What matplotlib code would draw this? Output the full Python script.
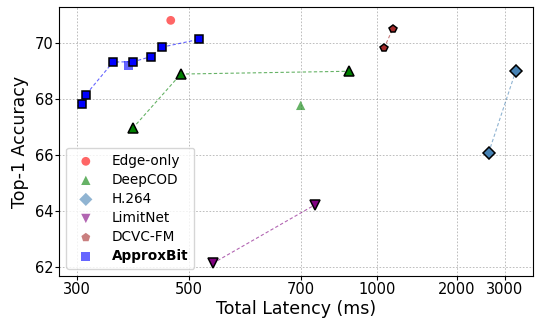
import numpy as np
import matplotlib
matplotlib.use("Agg")
import matplotlib.pyplot as plt
from matplotlib.scale import FuncScale

# ---- data ----
edge_lat = [467]
edge_acc = [70.82]

deepcod_lat = [399, 485, 888]
deepcod_acc = [66.96, 68.90, 69.00]
deepcod_ref_lat = [700]
deepcod_ref_acc = [67.78]

h264_lat = [2662, 3221]
h264_acc = [66.09, 69.00]

limitnet_lat = [542, 755]
limitnet_acc = [62.13, 64.22]

dcvc_lat = [1084, 1194]
dcvc_acc = [69.82, 70.51]

approx_lat = [308, 315, 364, 400, 431, 451, 517]
approx_acc = [67.83, 68.15, 69.33, 69.34, 69.52, 69.86, 70.14]
approx_ref_lat = [392]
approx_ref_acc = [69.20]

xticks = [300, 500, 700, 1000, 2000, 3000]
yticks = [62, 64, 66, 68, 70]

# piecewise-linear axis positions of the tick values
_bx = np.array(xticks, dtype=float)
_bp = np.array([0.0, 112.0, 223.4, 300.0, 379.4, 427.7])


def _fwd(x):
    x = np.asarray(x, dtype=float)
    y = np.interp(x, _bx, _bp)
    s0 = (_bp[1] - _bp[0]) / (_bx[1] - _bx[0])
    s1 = (_bp[-1] - _bp[-2]) / (_bx[-1] - _bx[-2])
    y = np.where(x < _bx[0], _bp[0] + (x - _bx[0]) * s0, y)
    y = np.where(x > _bx[-1], _bp[-1] + (x - _bx[-1]) * s1, y)
    return y


def _inv(p):
    p = np.asarray(p, dtype=float)
    x = np.interp(p, _bp, _bx)
    s0 = (_bx[1] - _bx[0]) / (_bp[1] - _bp[0])
    s1 = (_bx[-1] - _bx[-2]) / (_bp[-1] - _bp[-2])
    x = np.where(p < _bp[0], _bx[0] + (p - _bp[0]) * s0, x)
    x = np.where(p > _bp[-1], _bx[-1] + (p - _bp[-1]) * s1, x)
    return x


fig = plt.figure(figsize=(5.35, 3.2), dpi=100)
ax = fig.add_axes([0.1108, 0.1375, 0.8855, 0.8391])
ax.set_xscale('function', functions=(_fwd, _inv))

series = [
    ("DeepCOD", deepcod_lat, deepcod_acc, 'green', '^', 6.5),
    ("H.264", h264_lat, h264_acc, 'steelblue', 'D', 6),
    ("LimitNet", limitnet_lat, limitnet_acc, 'purple', 'v', 6.5),
    ("DCVC-FM", dcvc_lat, dcvc_acc, 'brown', 'p', 6),
    ("ApproxBit", approx_lat, approx_acc, 'blue', 's', 6.3),
]
for name, xs, ys, c, m, ms in series:
    ax.plot(xs, ys, linestyle='--', color=c, alpha=0.6, linewidth=0.8,
            dashes=(3, 2), zorder=2)
    ax.plot(xs, ys, linestyle='none', marker=m, markersize=ms, color=c,
            markeredgecolor='black', markeredgewidth=1.1, zorder=4)

h = []
h.append(ax.scatter(edge_lat, edge_acc, s=40, marker='o', color='red', alpha=0.6,
                    edgecolors='none', label='Edge-only', zorder=3))
h.append(ax.scatter(deepcod_ref_lat, deepcod_ref_acc, s=45, marker='^', color='green',
                    alpha=0.6, edgecolors='none', label='DeepCOD', zorder=3))
h.append(ax.scatter([], [], s=45, marker='D', color='steelblue', alpha=0.6,
                    edgecolors='none', label='H.264'))
h.append(ax.scatter([], [], s=45, marker='v', color='purple', alpha=0.6,
                    edgecolors='none', label='LimitNet'))
h.append(ax.scatter([], [], s=45, marker='p', color='brown', alpha=0.6,
                    edgecolors='none', label='DCVC-FM'))
h.append(ax.scatter(approx_ref_lat, approx_ref_acc, s=45, marker='s', color='blue',
                    alpha=0.6, edgecolors='none', label='ApproxBit', zorder=3))

ax.set_xlim(268, 3580)
ax.set_ylim(61.68, 71.28)
ax.set_xticks(xticks)
ax.set_xticklabels([str(t) for t in xticks])
ax.set_yticks(yticks)
ax.minorticks_off()
ax.tick_params(labelsize=10.5, length=2.6, pad=1.6)
ax.set_xlabel('Total Latency (ms)', fontsize=12.5, labelpad=2.5)
ax.set_ylabel('Top-1 Accuracy', fontsize=12.5, labelpad=4)
ax.grid(True, linestyle=(0, (2, 2)), color='gray', alpha=0.6, linewidth=0.6)
ax.set_axisbelow(True)

leg = ax.legend(handles=h, loc='lower left', fontsize=9.8, framealpha=0.8,
                handletextpad=0.9, handlelength=2.0, borderpad=0.45,
                labelspacing=0.37)
for t in leg.get_texts():
    if t.get_text() == 'ApproxBit':
        t.set_fontweight('bold')

fig.savefig('out.png', dpi=100)
